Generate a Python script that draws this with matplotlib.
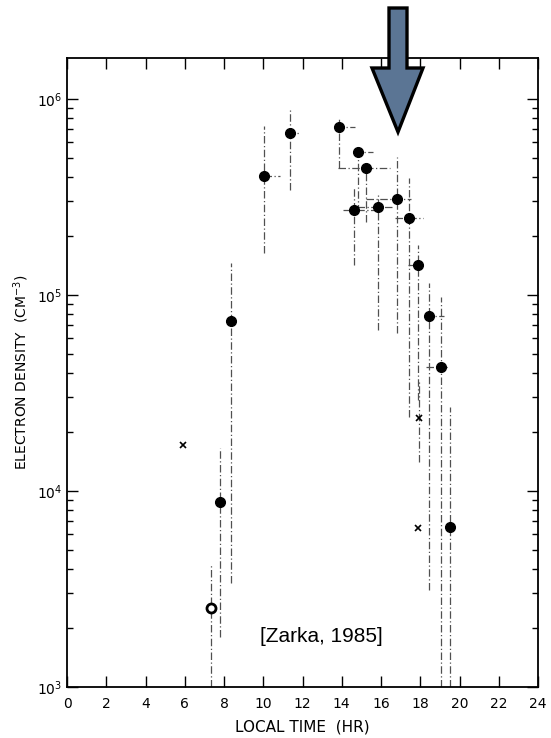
import matplotlib
matplotlib.use("Agg")
import matplotlib.pyplot as plt
from matplotlib.patches import Polygon
from matplotlib.ticker import LogLocator, NullFormatter, FixedLocator

# ---- data ----
local_time = [7.35, 7.80, 8.37, 10.05, 11.38, 13.88, 14.85, 15.26, 14.60, 15.87,
              16.84, 17.45, 17.86, 18.47, 19.08, 19.54]
density = [2520, 8790, 73600, 404000, 671000, 720000, 537000, 444000, 271000, 281000,
           309000, 247000, 142000, 78200, 43000, 6550]
dens_low = [1000, 1800, 3400, 164000, 344000, 445000, 265000, 236000, 142000, 66200,
            64000, 23900, 29100, 3120, 1000, 1000]
dens_high = [4190, 16600, 146000, 728000, 889000, 809000, 530000, 445000, 352000, 324000,
             506000, 395000, 180000, 115000, 97800, 26800]
time_low = [7.35, 7.80, 8.30, 10.05, 11.20, 13.70, 14.60, 13.83, 14.08, 14.80,
            15.25, 16.70, 17.40, 18.25, 18.30, 19.54]
time_high = [7.35, 7.80, 8.45, 10.87, 11.80, 14.70, 15.60, 16.48, 16.12, 16.58,
             17.55, 18.15, 18.15, 19.20, 19.40, 19.54]
open_marker = [True] + [False] * 15

cross_time = [5.90, 17.96, 17.90]
cross_density = [17200, 23500, 6470]
cross_low = [17200, 14100, 6470]
cross_high = [17200, 36800, 6470]

x_ticks = list(range(0, 25, 2))
y_ticks = [1e3, 1e4, 1e5, 1e6]
y_ticklabels = ["10$^3$", "10$^4$", "10$^5$", "10$^6$"]

# ---- figure ----
fig = plt.figure(figsize=(5.51, 7.38), dpi=100)
ax = fig.add_axes([67/551, 51/738, 471/551, 629/738])
ax.set_yscale("log")
ax.set_xlim(0, 24)
ax.set_ylim(1e3, 10**6.209)

bar_style = dict(colors="#505050", linewidth=0.9, linestyles=[(0, (6, 2, 1, 2))])
ax.vlines(local_time, dens_low, dens_high, **bar_style)
ax.hlines(density, time_low, time_high, **bar_style)
ax.vlines(cross_time, cross_low, cross_high, **bar_style)

for t, d, o in zip(local_time, density, open_marker):
    if o:
        ax.plot(t, d, "o", ms=6.5, mfc="white", mec="black", mew=2.0, zorder=5)
    else:
        ax.plot(t, d, "o", ms=7, mfc="black", mec="black", zorder=5)
ax.plot(cross_time, cross_density, "x", ms=5, color="black", mew=1.2, zorder=5)

ax.set_xticks(x_ticks)
ax.set_xticklabels([str(v) for v in x_ticks], fontsize=10)
ax.yaxis.set_major_locator(FixedLocator(y_ticks))
ax.set_yticklabels(y_ticklabels, fontsize=10)
ax.yaxis.set_minor_locator(LogLocator(base=10, subs=range(2, 10)))
ax.yaxis.set_minor_formatter(NullFormatter())
ax.tick_params(which="major", direction="in", length=8, width=1, top=True, right=True)
ax.tick_params(which="minor", direction="in", length=4, width=1, top=True, right=True)
ax.tick_params(axis="x", which="major", pad=7)
for s in ax.spines.values():
    s.set_linewidth(1.3)

ax.set_xlabel("LOCAL TIME  (HR)", fontsize=11, labelpad=6)
ax.set_ylabel("ELECTRON DENSITY  (CM$^{-3}$)", fontsize=10, labelpad=4)

ax.text(0.54, 0.081, "[Zarka, 1985]", transform=ax.transAxes, fontsize=15,
        family="Liberation Sans", ha="center", va="center")

# ---- arrow annotation (figure pixel coords) ----
W, H = 551, 738
pts = [(389, 8), (407, 8), (407, 68), (423, 68), (398, 132), (372, 68), (389, 68)]
arrow = Polygon([(x / W, 1 - y / H) for x, y in pts], closed=True,
                transform=fig.transFigure, facecolor="#5b7594", edgecolor="black",
                linewidth=2.4, zorder=10)
fig.patches.append(arrow)

fig.savefig("out.png", dpi=100)
